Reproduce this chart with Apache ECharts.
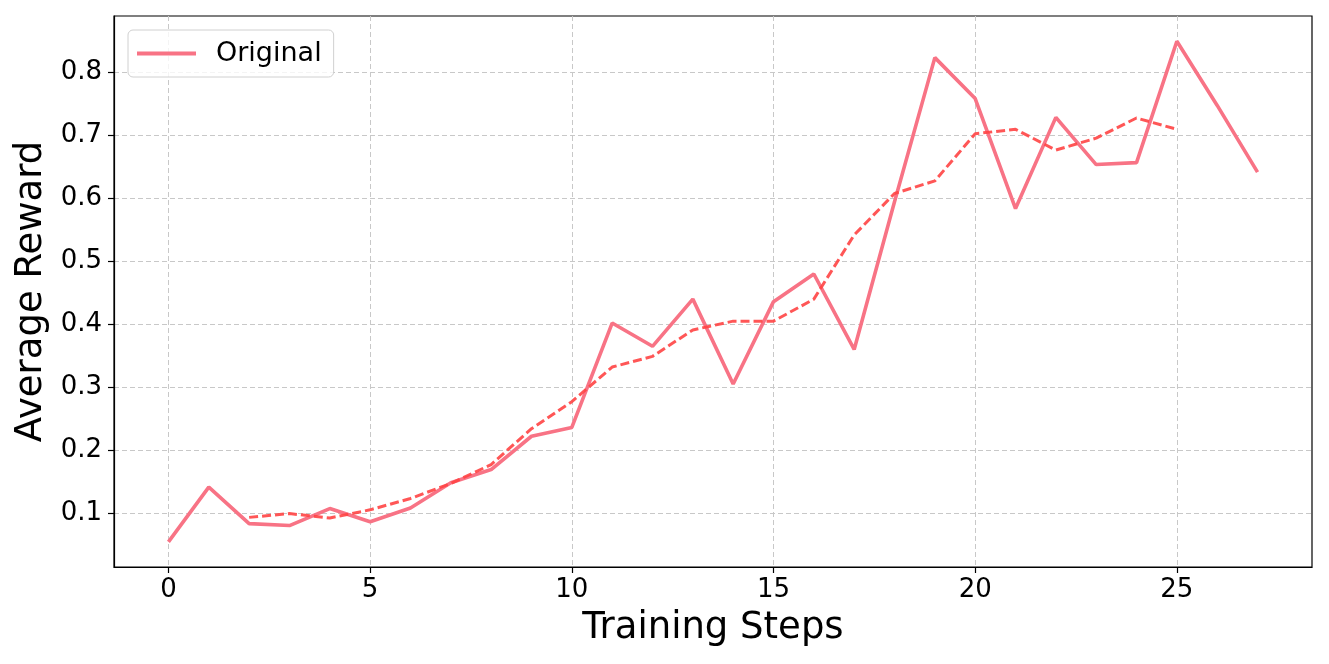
<!DOCTYPE html>
<html>
<head>
<meta charset="utf-8">
<script src="https://cdn.jsdelivr.net/npm/echarts@6/dist/echarts.min.js"></script>
<style>
  html, body { margin: 0; padding: 0; background: #fff; }
  #chart { width: 1329px; height: 664px; }
</style>
</head>
<body>
<div id="chart"></div>
<script>
// values
var steps = [0,1,2,3,4,5,6,7,8,9,10,11,12,13,14,15,16,17,18,19,20,21,22,23,24,25,26,27];
var original = [0.054,0.141,0.083,0.080,0.107,0.086,0.108,0.148,0.169,0.222,0.236,0.402,0.365,0.440,0.305,0.436,0.480,0.360,0.595,0.824,0.759,0.584,0.729,0.654,0.657,0.850,0.748,0.642];
var smoothSteps = [2,3,4,5,6,7,8,9,10,11,12,13,14,15,16,17,18,19,20,21,22,23,24,25];
var smoothed = [0.093,0.099,0.092,0.105,0.123,0.147,0.177,0.234,0.277,0.332,0.349,0.391,0.405,0.405,0.440,0.542,0.608,0.628,0.703,0.710,0.677,0.696,0.728,0.710];
var xTicks = [0,5,10,15,20,25];
var yTicks = [0.1,0.2,0.3,0.4,0.5,0.6,0.7,0.8];

var font = 'DejaVu Sans';
var pink = '#f87385';
var red = '#ff4444';

function pairs(xs, ys) {
  return xs.map(function (x, i) { return [x, ys[i]]; });
}

var chart = echarts.init(document.getElementById('chart'));
var option = {
  animation: false,
  grid: {
    left: 114, right: 17, top: 16, bottom: 97,
    show: true, borderColor: '#000', borderWidth: 1.2, backgroundColor: '#fff'
  },
  legend: {
    left: 128, top: 30,
    data: [{ name: 'Original', icon: 'rect' }],
    itemWidth: 59, itemHeight: 4,
    padding: [10, 12, 10, 9],
    borderColor: '#d0d0d0', borderWidth: 1, borderRadius: 5,
    backgroundColor: 'rgba(255,255,255,0.8)',
    textStyle: { fontFamily: font, fontSize: 27, color: '#000', padding: [0, 0, 0, 15] }
  },
  xAxis: {
    type: 'value', min: -1.35, max: 28.35,
    name: 'Training Steps', nameLocation: 'middle', nameGap: 43,
    nameTextStyle: { fontFamily: font, fontSize: 37, color: '#000' },
    axisLine: { onZero: false, lineStyle: { color: '#000', width: 1.2 } },
    axisTick: { show: true, length: 6, customValues: xTicks, lineStyle: { color: '#000', width: 1.2 } },
    axisLabel: { customValues: xTicks, margin: 10, fontFamily: font, fontSize: 26, color: '#000' },
    splitLine: { show: true, customValues: xTicks, lineStyle: { color: '#c8c8c8', type: [5, 3], width: 1 } }
  },
  yAxis: {
    type: 'value', min: 0.0141, max: 0.8902,
    name: 'Average Reward', nameLocation: 'middle', nameGap: 62,
    nameTextStyle: { fontFamily: font, fontSize: 37, color: '#000' },
    axisLine: { show: true, onZero: false, lineStyle: { color: '#000', width: 1.2 } },
    axisTick: { show: true, length: 6, customValues: yTicks, lineStyle: { color: '#000', width: 1.2 } },
    axisLabel: {
      customValues: yTicks, margin: 12, fontFamily: font, fontSize: 26, color: '#000',
      formatter: function (v) { return v.toFixed(1); }
    },
    splitLine: { show: true, customValues: yTicks, lineStyle: { color: '#c8c8c8', type: [5, 3], width: 1 } }
  },
  series: [
    {
      name: 'Original', type: 'line', symbol: 'none',
      data: pairs(steps, original),
      itemStyle: { color: pink },
      lineStyle: { color: pink, width: 3.6 },
      z: 3
    },
    {
      name: 'Smoothed', type: 'line', symbol: 'none',
      data: pairs(smoothSteps, smoothed),
      itemStyle: { color: red },
      lineStyle: { color: red, width: 3, type: [9, 4], opacity: 0.9 },
      z: 4
    }
  ]
};
chart.setOption(option);
</script>
</body>
</html>
